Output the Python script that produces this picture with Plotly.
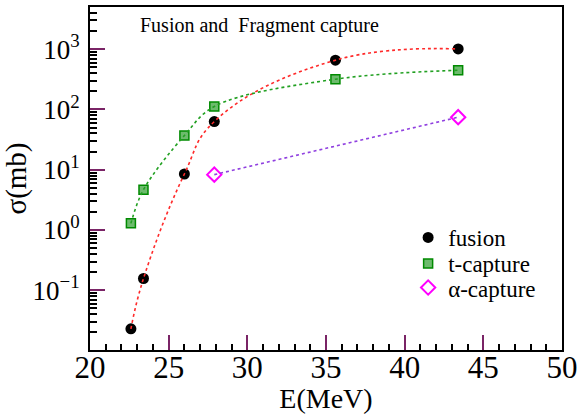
import plotly.graph_objects as go

# Data
fusion_E = [22.6, 23.4, 26.0, 27.9, 35.6, 43.4]
fusion_sigma = [0.023, 0.157, 8.5, 63, 656, 1010]

t_E = [22.6, 23.4, 26.0, 27.9, 35.6, 43.4]
t_sigma = [1.29, 4.66, 37, 112, 318, 448]

alpha_E = [27.9, 43.4]
alpha_sigma = [8.3, 74.5]

x_ticks = [20, 25, 30, 35, 40, 45, 50]
y_tickvals = [0.1, 1, 10, 100, 1000]
y_ticktext = ["10<sup>\u22121</sup>", "10<sup>0</sup>", "10<sup>1</sup>",
              "10<sup>2</sup>", "10<sup>3</sup>"]

FONT = "Liberation Serif"
MAJ = "#7a2466"

fig = go.Figure()

# markers (legend entries)
fig.add_trace(go.Scatter(x=fusion_E, y=fusion_sigma, mode="markers", name="fusion",
                         legend="legend",
                         marker=dict(symbol="circle", size=11, color="black")))
fig.add_trace(go.Scatter(x=t_E, y=t_sigma, mode="markers", name="t-capture",
                         legend="legend2",
                         marker=dict(symbol="square", size=9, color="#6dbb6d",
                                     line=dict(color="#008a00", width=1.5))))
fig.add_trace(go.Scatter(x=alpha_E, y=alpha_sigma, mode="markers", name="\u03b1-capture",
                         legend="legend3",
                         marker=dict(symbol="diamond-open", size=11, color="#ff00ff",
                                     line=dict(color="#ff00ff", width=2))))

# dotted connecting curves (drawn on top)
fig.add_trace(go.Scatter(x=fusion_E, y=fusion_sigma, mode="lines", showlegend=False,
                         line=dict(color="#ff2a2a", width=1.6, dash="dot", shape="spline",
                                   smoothing=1.2), hoverinfo="skip"))
fig.add_trace(go.Scatter(x=t_E, y=t_sigma, mode="lines", showlegend=False,
                         line=dict(color="#22a022", width=1.6, dash="dot", shape="spline",
                                   smoothing=1.0), hoverinfo="skip"))
fig.add_trace(go.Scatter(x=alpha_E, y=alpha_sigma, mode="lines", showlegend=False,
                         line=dict(color="#9040e0", width=1.6, dash="dot"), hoverinfo="skip"))

minor_y = [m * 10 ** k for k in range(-2, 4) for m in range(2, 10) if m * 10 ** k < 5100]
minor_x = [v for v in range(21, 50) if v % 5 != 0]

leg_common = dict(x=0.674, xanchor="left", yanchor="middle", bgcolor="rgba(0,0,0,0)",
                  font=dict(family=FONT, size=23, color="black"), itemsizing="trace")

fig.update_layout(
    width=581, height=414,
    margin=dict(l=90, r=19, t=7, b=64),
    paper_bgcolor="white", plot_bgcolor="white",
    font=dict(family=FONT, color="black", size=18),
    showlegend=True,
    legend=dict(y=0.328, **leg_common),
    legend2=dict(y=0.252, **leg_common),
    legend3=dict(y=0.182, **leg_common),
    annotations=[dict(text="Fusion and\u00a0 Fragment capture", xref="paper", yref="paper",
                      x=0.102, y=0.945, xanchor="left", yanchor="middle", showarrow=False,
                      font=dict(family=FONT, size=20, color="black"))],
)

fig.update_xaxes(
    range=[20, 50], tickmode="array", tickvals=x_ticks,
    ticks="inside", ticklen=15, tickwidth=1.5, tickcolor=MAJ,
    minor=dict(tickmode="array", tickvals=minor_x, ticks="inside", ticklen=6,
               tickwidth=1.5, tickcolor="black"),
    showgrid=False, zeroline=False, automargin=False,
    showline=True, linewidth=2, linecolor="black", mirror=True,
    tickfont=dict(family=FONT, size=31),
    ticklabelstandoff=-11,
    title=dict(text="E(MeV)", font=dict(family=FONT, size=28), standoff=12),
)
fig.update_yaxes(
    type="log", range=[-1.99, 3.70], tickmode="array", tickvals=y_tickvals,
    ticktext=y_ticktext,
    ticks="inside", ticklen=15, tickwidth=1.5, tickcolor=MAJ,
    minor=dict(tickmode="array", tickvals=minor_y, ticks="inside", ticklen=7,
               tickwidth=1.5, tickcolor="black"),
    showgrid=False, zeroline=False, automargin=False,
    showline=True, linewidth=2, linecolor="black", mirror=True,
    tickfont=dict(family=FONT, size=27),
    ticklabelstandoff=3,
    title=dict(text="\u03c3(mb)", font=dict(family=FONT, size=29), standoff=4),
)

fig.write_html("out.html", config={"displayModeBar": False},
               post_script="document.body.style.margin='0';")
